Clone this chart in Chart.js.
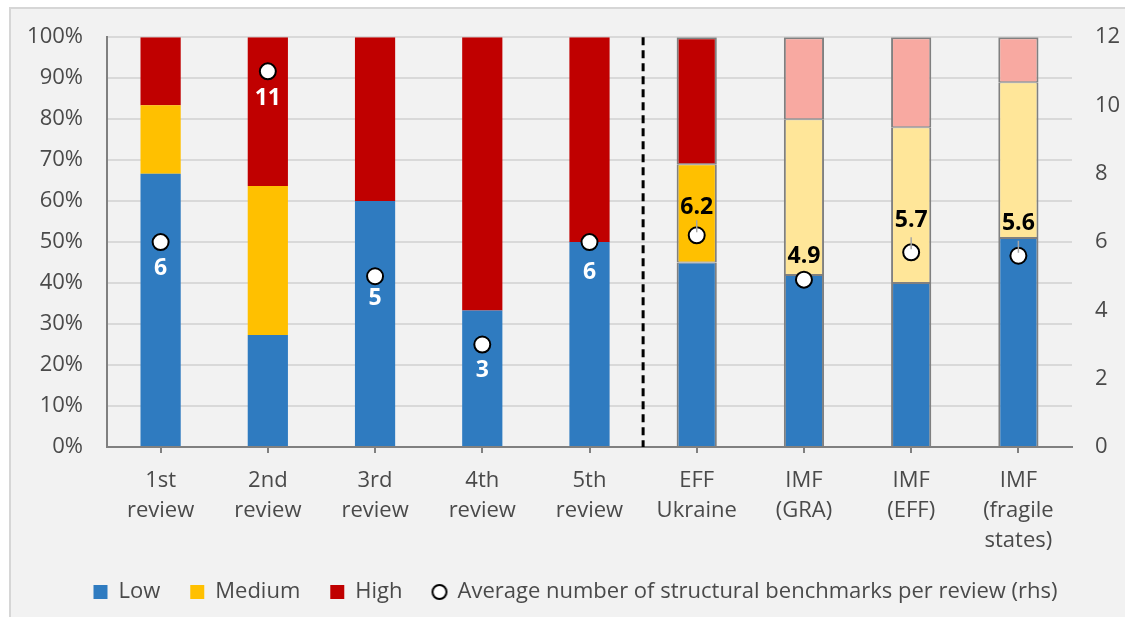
<!DOCTYPE html>
<html>
<head>
<meta charset="utf-8">
<script src="https://cdn.jsdelivr.net/npm/chart.js@4.4.1/dist/chart.umd.min.js"></script>
<style>
  html, body { margin: 0; padding: 0; background: #ffffff; overflow: hidden; }
  #wrap { width: 1125px; height: 617px; }
</style>
</head>
<body>
<div id="wrap"><canvas id="chart" width="1125" height="617"></canvas></div>
<script>
// ---- data ----
const categories = [
  ['1st', 'review'], ['2nd', 'review'], ['3rd', 'review'], ['4th', 'review'], ['5th', 'review'],
  ['EFF', 'Ukraine'], ['IMF', '(GRA)'], ['IMF', '(EFF)'], ['IMF', '(fragile', 'states)']
];
const seriesNames = ['Low', 'Medium', 'High', 'Average number of structural benchmarks per review (rhs)'];
const lowShare    = [66.7, 27.3, 60, 33.3, 50, 45, 42, 40, 51];
const mediumShare = [16.7, 36.4, 0, 0, 0, 24, 38, 38, 38];
const highShare   = [16.6, 36.3, 40, 66.7, 50, 31, 20, 22, 11];
const avgBenchmarks = [6, 11, 5, 3, 6, 6.2, 4.9, 5.7, 5.6];
const leftTicks  = [0, 10, 20, 30, 40, 50, 60, 70, 80, 90, 100];
const rightTicks = [0, 2, 4, 6, 8, 10, 12];

// ---- styling ----
const FONT = '"Open Sans", "Noto Sans", sans-serif';
const TEXT = '#4a4a4a';
const separatorAfter = 4;     // dashed line sits between this bar and the next
const firstOutlined = 5;      // bars from here on carry a grey outline
const firstPale = 6;          // IMF-wide averages use the paler palette
const strong = { low: '#2F7BC0', medium: '#FFC000', high: '#C00000' };
const pale   = { low: '#2F7BC0', medium: '#FFE699', high: '#F8A9A1' };
const labelShift = [26, 27, 22, 26, 30, -28, -23, -32, -32];
const labelColor = ['#ffffff', '#ffffff', '#ffffff', '#ffffff', '#ffffff', '#000000', '#000000', '#000000', '#000000'];
const leaderLine = [false, false, false, false, false, true, false, true, true];

const colorsFor = key => categories.map((_, i) => i >= firstPale ? pale[key] : strong[key]);
const borderFor = segment => ctx => {
  if (ctx.dataIndex < firstOutlined) return 0;
  if (segment === 'low') return { left: 2, right: 2, top: 1, bottom: 0 };
  if (segment === 'medium') return { left: 2, right: 2, top: 1, bottom: 1 };
  return { left: 2, right: 2, top: 2, bottom: 1 };
};

// legend marker for the average series
const circleIcon = document.createElement('canvas');
circleIcon.width = 18; circleIcon.height = 18;
(() => {
  const c = circleIcon.getContext('2d');
  c.beginPath(); c.arc(9, 9, 7, 0, Math.PI * 2);
  c.fillStyle = '#ffffff'; c.fill();
  c.lineWidth = 2; c.strokeStyle = '#000000'; c.stroke();
})();

// frame + page background
const backdrop = {
  id: 'backdrop',
  beforeDraw(chart) {
    const { ctx, width, height } = chart;
    ctx.save();
    ctx.fillStyle = '#ffffff';
    ctx.fillRect(0, 0, width, height);
    ctx.fillStyle = '#F2F2F2';
    ctx.fillRect(10, 8, width, height);
    ctx.strokeStyle = '#D6D6D6';
    ctx.lineWidth = 2;
    ctx.beginPath();
    ctx.moveTo(10, height + 2); ctx.lineTo(10, 8); ctx.lineTo(width + 2, 8);
    ctx.stroke();
    ctx.restore();
  }
};

// dashed divider between the programme reviews and the comparison group
const divider = {
  id: 'divider',
  afterDatasetsDraw(chart) {
    const { ctx, chartArea, scales } = chart;
    const x = (scales.x.getPixelForValue(separatorAfter) + scales.x.getPixelForValue(separatorAfter + 1)) / 2;
    ctx.save();
    ctx.strokeStyle = '#000000';
    ctx.lineWidth = 3;
    ctx.setLineDash([8, 5]);
    ctx.beginPath();
    ctx.moveTo(x, chartArea.top);
    ctx.lineTo(x, chartArea.bottom);
    ctx.stroke();
    ctx.restore();
  }
};

// value labels for the average markers
const valueLabels = {
  id: 'valueLabels',
  afterDatasetsDraw(chart) {
    const meta = chart.getDatasetMeta(3);
    const ctx = chart.ctx;
    ctx.save();
    ctx.font = 'bold 23px ' + FONT;
    ctx.textAlign = 'center';
    ctx.textBaseline = 'middle';
    meta.data.forEach((pt, i) => {
      if (leaderLine[i]) {
        ctx.strokeStyle = '#A6A6A6';
        ctx.lineWidth = 1.5;
        ctx.beginPath();
        ctx.moveTo(pt.x, pt.y - 3);
        ctx.lineTo(pt.x, pt.y - 15);
        ctx.stroke();
      }
      ctx.fillStyle = labelColor[i];
      ctx.fillText(String(avgBenchmarks[i]), pt.x, pt.y + labelShift[i]);
    });
    ctx.restore();
  }
};

new Chart(document.getElementById('chart'), {
  data: {
    labels: categories,
    datasets: [
      { type: 'bar', label: seriesNames[0], data: lowShare, yAxisID: 'y', order: 1,
        backgroundColor: colorsFor('low'), borderColor: '#808080', borderWidth: borderFor('low'), borderSkipped: false },
      { type: 'bar', label: seriesNames[1], data: mediumShare, yAxisID: 'y', order: 1,
        backgroundColor: colorsFor('medium'), borderColor: '#808080', borderWidth: borderFor('medium'), borderSkipped: false },
      { type: 'bar', label: seriesNames[2], data: highShare, yAxisID: 'y', order: 1,
        backgroundColor: colorsFor('high'), borderColor: '#808080', borderWidth: borderFor('high'), borderSkipped: false },
      { type: 'line', label: seriesNames[3], data: avgBenchmarks, yAxisID: 'y1', order: 0,
        showLine: false, pointRadius: 8, pointHoverRadius: 8, pointBorderWidth: 2,
        pointBackgroundColor: '#ffffff', pointBorderColor: '#000000' }
    ]
  },
  options: {
    responsive: false,
    animation: false,
    events: [],
    layout: { padding: { left: 26, right: 0, top: 36, bottom: 4 } },
    datasets: { bar: { categoryPercentage: 1, barPercentage: 0.375 } },
    scales: {
      x: {
        stacked: true,
        offset: true,
        grid: { display: true, offset: false, drawOnChartArea: false, drawTicks: true, tickLength: 6, color: '#808080', lineWidth: 2 },
        border: { display: true, color: '#808080', width: 2 },
        ticks: { color: TEXT, font: { family: FONT, size: 22, lineHeight: 1.36 }, padding: 13, maxRotation: 0, autoSkip: false },
        afterFit: s => { s.height = 104; }
      },
      y: {
        stacked: true,
        position: 'left',
        min: 0, max: 100,
        afterBuildTicks: s => { s.ticks = leftTicks.map(v => ({ value: v })); },
        grid: { color: '#D9D9D9', lineWidth: 2, drawTicks: false },
        border: { display: true, color: '#808080', width: 2 },
        ticks: { color: TEXT, font: { family: FONT, size: 22 }, padding: 24, callback: v => v + '%' },
        afterFit: s => { s.width = 81; }
      },
      y1: {
        position: 'right',
        min: 0, max: 12,
        afterBuildTicks: s => { s.ticks = rightTicks.map(v => ({ value: v })); },
        grid: { display: false, drawTicks: false },
        border: { display: false },
        ticks: { color: TEXT, font: { family: FONT, size: 22 }, padding: 23 },
        afterFit: s => { s.width = 53; }
      }
    },
    plugins: {
      tooltip: { enabled: false },
      legend: {
        position: 'bottom',
        labels: {
          color: TEXT,
          font: { family: FONT, size: 22 },
          usePointStyle: true,
          boxWidth: 14,
          boxHeight: 14,
          padding: 30,
          generateLabels: chart => chart.data.datasets.map((ds, i) => ({
            text: ds.label,
            datasetIndex: i,
            fillStyle: i === 0 ? strong.low : i === 1 ? strong.medium : i === 2 ? strong.high : '#ffffff',
            strokeStyle: 'transparent',
            lineWidth: 0,
            pointStyle: i === 3 ? circleIcon : 'rect',
            fontColor: TEXT,
            hidden: false
          }))
        }
      }
    }
  },
  plugins: [backdrop, divider, valueLabels]
});
</script>
</body>
</html>
